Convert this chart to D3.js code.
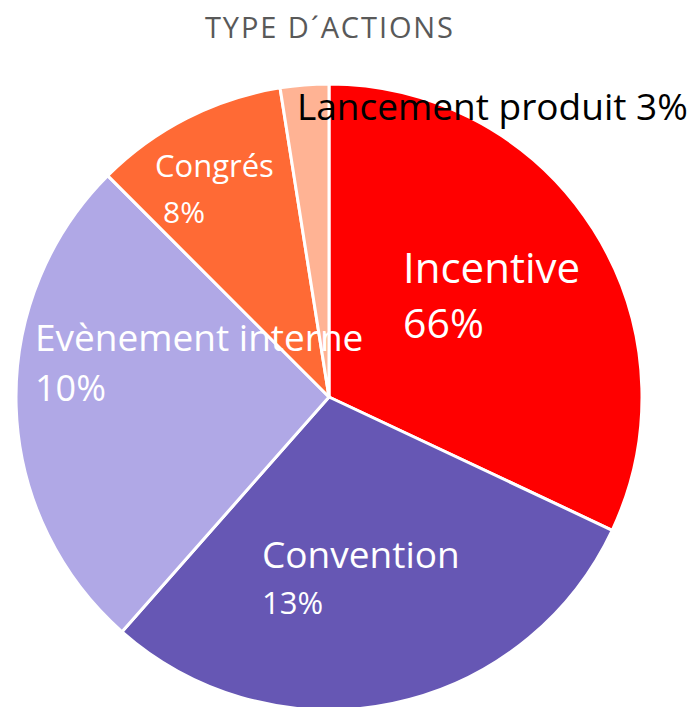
<!DOCTYPE html>
<html><head><meta charset="utf-8">
<script src="https://cdn.jsdelivr.net/npm/d3@7"></script>
<style>body{margin:0;background:#fff}svg{display:block}</style>
</head><body>
<script>
const categories = ["Incentive", "Convention", "Evènement interne", "Congrés", "Lancement produit"];
const sliceValues = [32, 29.5, 26, 10, 2.5];
const percentLabels = ["66%", "13%", "10%", "8%", "3%"];
const colors = ["#FF0000", "#6657B4", "#B0A8E6", "#FF6A35", "#FFB394"];
const title = "TYPE D´ACTIONS";

const W = 692, H = 707;
const svg = d3.select("body").append("svg").attr("width", W).attr("height", H);
const font = "'Open Sans', sans-serif";

svg.append("text").attr("x", 205).attr("y", 38)
  .attr("font-family", font).attr("font-size", 29).attr("fill", "#595959")
  .attr("textLength", 248).attr("lengthAdjust", "spacing").text(title);

const cx = 329, cy = 397, R = 313;
const data = categories.map((c, i) => ({cat: c, value: sliceValues[i], pct: percentLabels[i], color: colors[i]}));
const pie = d3.pie().sort(null).value(d => d.value);
const arc = d3.arc().innerRadius(0).outerRadius(R);
const g = svg.append("g").attr("transform", `translate(${cx},${cy})`);
g.selectAll("path").data(pie(data)).join("path")
  .attr("d", arc).attr("fill", d => d.data.color)
  .attr("stroke", "#fff").attr("stroke-width", 3).attr("stroke-linejoin", "round");

const labelPos = [
  {x: 403, y1: 283, y2: 338, s1: 42, s2: 41, fill: "#fff"},
  {x: 262, y1: 568, y2: 614, s1: 37, s2: 31, fill: "#fff"},
  {x: 35, y1: 351, y2: 401, s1: 37, s2: 36, fill: "#fff"},
  {x: 155, y1: 177, y2: 223, s1: 31, s2: 30, fill: "#fff", dx2: 8},
  {x: 297, y1: 120, s1: 37, fill: "#000", inline: true}
];
const lg = svg.append("g");
data.forEach((d, i) => {
  const p = labelPos[i];
  if (p.inline) {
    lg.append("text").attr("x", p.x).attr("y", p.y1).attr("font-family", font)
      .attr("font-size", p.s1).attr("fill", p.fill).text(d.cat + " " + d.pct);
  } else {
    lg.append("text").attr("x", p.x).attr("y", p.y1).attr("font-family", font)
      .attr("font-size", p.s1).attr("fill", p.fill).text(d.cat);
    lg.append("text").attr("x", p.x + (p.dx2 || 0)).attr("y", p.y2).attr("font-family", font)
      .attr("font-size", p.s2).attr("fill", p.fill).text(d.pct);
  }
});
</script>
</body></html>
